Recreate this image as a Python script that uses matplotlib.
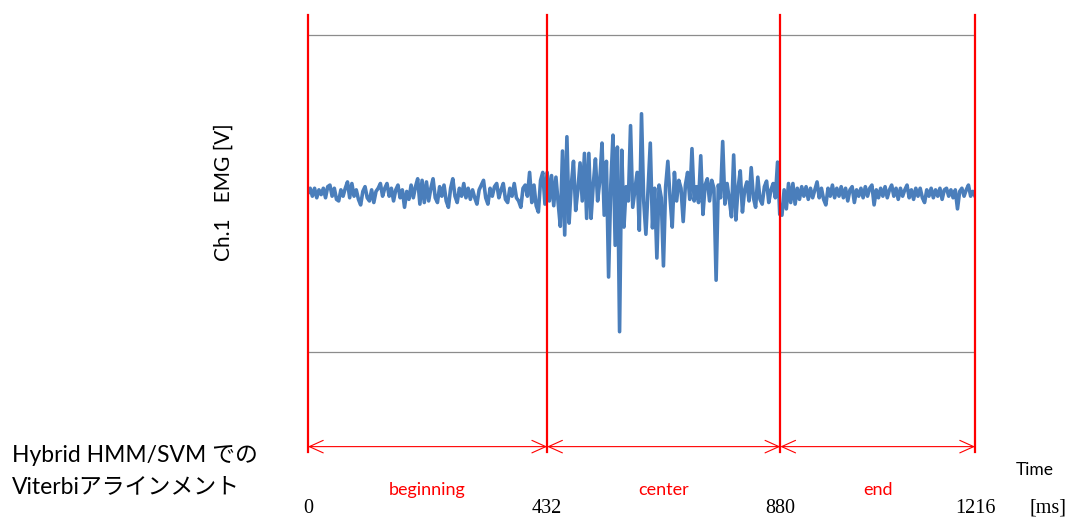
import matplotlib
matplotlib.use("Agg")
import matplotlib.pyplot as plt
import numpy as np

# EMG samples, one every 4 ms (gray guide lines are at +/-1)
seg_begin = [
    0.00, 0.03, -0.02, 0.03, -0.03, 0.02, -0.01, 0.03, -0.03, 0.04,
    0.05, -0.02, 0.03, -0.04, -0.05, 0.02, -0.02, 0.03, 0.07, -0.03,
    0.06, -0.02, 0.02, -0.04, -0.075, 0.01, 0.04, -0.03, -0.05, 0.02,
    -0.06, 0.01, 0.03, 0.06, -0.02, 0.03, 0.06, -0.02, 0.03, -0.05,
    0.02, 0.05, -0.03, 0.02, -0.09, 0.01, -0.04, 0.05, -0.03, 0.04,
    0.09, -0.07, 0.08, -0.06, 0.07, -0.05, 0.03, 0.09, -0.03, -0.06,
    0.04, -0.02, 0.05, -0.05, -0.09, 0.03, 0.09, -0.02, -0.06, 0.03,
    -0.02, 0.06, -0.03, 0.03, -0.04, 0.02, -0.03, -0.07, 0.02, 0.05,
    0.08, -0.03, -0.07, 0.03, -0.02, 0.04, 0.06, -0.03, 0.02, 0.06,
    -0.04, -0.06, 0.03, -0.02, 0.06, -0.03, -0.05, -0.09, 0.03, 0.05,
    -0.02, 0.13, -0.06, 0.05, -0.08, -0.12, 0.08, 0.13, -0.07,
]
seg_center = [
    0.13, -0.05, 0.11, -0.08, 0.10, -0.06, -0.21, 0.265, -0.265, 0.355,
    -0.19, 0.05, 0.20, -0.11, 0.02, 0.19, -0.05, 0.25, -0.16, 0.25,
    -0.16, 0.05, 0.215, -0.05, 0.08, 0.315, -0.14, 0.20, -0.53, 0.05,
    0.365, -0.33, 0.29, -0.875, 0.27, -0.215, 0.04, -0.05, 0.425, -0.09,
    0.02, 0.13, -0.235, 0.50, -0.05, -0.26, 0.03, 0.315, -0.22, 0.03,
    -0.41, 0.05, -0.03, -0.46, 0.04, 0.20, -0.03, -0.215, 0.13, -0.05,
    0.08, 0.03, -0.18, 0.05, 0.13, -0.04, 0.28, -0.05, 0.04, -0.06,
    0.235, -0.135, 0.05, 0.09, -0.05, 0.08, 0.03, -0.55, 0.05, -0.03,
    0.325, -0.07, 0.06, -0.04, -0.15, 0.24, -0.17, 0.03, 0.14, -0.12,
    0.02, 0.07, -0.05, 0.16, -0.03, -0.09, 0.10, -0.04, -0.07, 0.04,
    0.075, -0.06, 0.02, 0.06, -0.03, 0.195,
]
seg_end = [
    -0.135, -0.14, 0.02, -0.10, 0.06, -0.06, 0.06, -0.07, 0.03, -0.04,
    0.04, -0.02, 0.04, -0.04, 0.03, -0.03, 0.02, 0.07, -0.03, 0.03,
    -0.04, -0.075, 0.03, -0.02, 0.05, -0.03, 0.03, -0.02, 0.04, -0.03,
    0.03, -0.05, 0.02, 0.04, -0.06, 0.02, -0.02, 0.03, -0.03, 0.04,
    -0.02, 0.03, 0.05, -0.075, 0.02, -0.03, 0.03, -0.02, 0.04, -0.03,
    0.02, 0.05, -0.02, 0.03, -0.04, 0.03, -0.02, 0.02, 0.05, -0.03,
    0.02, -0.04, 0.03, -0.02, 0.03, -0.03, -0.06, 0.02, -0.02, 0.03,
    -0.03, 0.02, -0.02, 0.03, -0.04, 0.02, 0.03, -0.02, 0.02, -0.03,
    0.02, -0.10, 0.01, 0.03, -0.02, 0.02, 0.05, -0.02, 0.01, -0.02,
]
emg = np.array(seg_begin + seg_center + seg_end)
dt_ms = 4
t = np.arange(len(emg)) * dt_ms

# segment borders (where they sit on the plot) and their printed labels
borders = [0, 436, 861, 1216]
border_labels = ["0", "432", "880", "1216"]
segments = ["beginning", "center", "end"]

fig = plt.figure(figsize=(10.69, 5.18), dpi=100)
ax = fig.add_axes([0.2881, 0.1274, 0.624, 0.8436])
ax.set_xlim(0, 1216)
ax.set_ylim(-1.634, 1.123)
ax.axis("off")

for g in (-1, 1):
    ax.axhline(g, color="#8c8c8c", lw=0.9, zorder=1)

ax.plot(t, emg, color="#4a7ebb", lw=2.6, solid_joinstyle="round", zorder=2)

for b in borders:
    ax.axvline(b, color="red", lw=1.6, clip_on=False, zorder=3)

arrow_y = -1.60
for i in range(len(segments)):
    ax.annotate("", xy=(borders[i], arrow_y), xytext=(borders[i + 1], arrow_y),
                arrowprops=dict(arrowstyle="<->,head_length=1.0,head_width=0.45",
                                color="red", lw=0.8, shrinkA=0, shrinkB=0))
    mid = (borders[i] + borders[i + 1]) / 2
    ax.text(mid, -1.874, segments[i], color="red", fontsize=13,
            family="Lato", ha="center", va="center")

for b, lab in zip(borders, border_labels):
    ax.text(b, -1.99, lab, fontsize=14.5, family="Liberation Serif",
            ha="center", va="center")
ax.text(1349, -1.99, "[ms]", fontsize=14.5, family="Liberation Serif",
        ha="center", va="center")
ax.text(1325, -1.75, "Time", fontsize=12.5, family="Lato",
        ha="center", va="center")

fig.text(224 / 1069, 1 - 192 / 518, "Ch.1   EMG [V]", rotation=90,
         fontsize=15, family="Lato", ha="center", va="center")

jp = ["Lato", "Noto Sans CJK JP"]
fig.text(12 / 1069, 1 - 462 / 518, "Hybrid HMM/SVM での", fontsize=16.5,
         family=jp, ha="left", va="baseline")
fig.text(12 / 1069, 1 - 493 / 518, "Viterbiアラインメント", fontsize=16.5,
         family=jp, ha="left", va="baseline")

fig.savefig("out.png", dpi=100)
